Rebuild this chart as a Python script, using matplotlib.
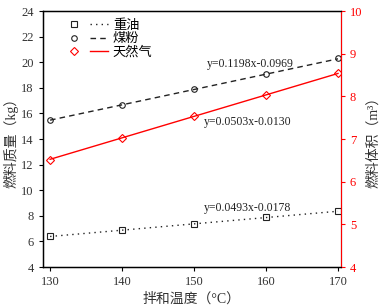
import numpy as np
import matplotlib
matplotlib.use("Agg")
import matplotlib.pyplot as plt
from matplotlib.legend_handler import HandlerTuple

plt.rcParams['font.family'] = ['Liberation Serif', 'Noto Sans CJK SC']

temps = [130, 140, 150, 160, 170]
heavy_oil = [6.4, 6.9, 7.4, 7.9, 8.4]          # kg
coal = [15.5, 16.7, 17.9, 19.1, 20.3]          # kg
gas = [6.52, 7.03, 7.53, 8.03, 8.54]           # m3

oil_fit = (0.0493, -0.0178)
coal_fit = (0.1198, -0.0969)
gas_fit = (0.0503, -0.0130)

fig = plt.figure(figsize=(3.83, 3.07), dpi=100)
ax = fig.add_axes([0.112, 0.130, 0.778, 0.834])
ax2 = ax.twinx()

x = np.array(temps, dtype=float)
ms = 4
m1, = ax.plot(temps, heavy_oil, ls='none', marker='s', ms=ms, mfc='none', mec='#222222', mew=0.8)
l1, = ax.plot(x, oil_fit[0] * x + oil_fit[1], ls=(0, (1, 3)), color='#222222', lw=1)
m2, = ax.plot(temps, coal, ls='none', marker='o', ms=ms, mfc='none', mec='#222222', mew=0.8)
l2, = ax.plot(x, coal_fit[0] * x + coal_fit[1], ls=(0, (4, 3)), color='#222222', lw=1)
m3, = ax2.plot(temps, gas, ls='none', marker='D', ms=ms, mfc='none', mec='red', mew=0.8)
l3, = ax2.plot(x, gas_fit[0] * x + gas_fit[1], ls='-', color='red', lw=1)

ax.set_xlim(129, 170.4)
ax.set_ylim(4, 24)
ax.set_yticks(range(4, 25, 2))
ax.set_xticks(temps)
ax2.set_ylim(4, 10)
ax2.set_yticks(range(4, 11))

ax.tick_params(direction='out', length=3, labelsize=9, labelcolor='#333333', top=False)
ax2.tick_params(direction='out', length=3, labelsize=9, colors='red')
ax2.spines['right'].set_color('red')
for s in ['left', 'bottom', 'top']:
    ax.spines[s].set_linewidth(1.0)

ax.set_xlabel('拌和温度（°C）', fontsize=10, color='#333333', labelpad=3)
ax.set_ylabel('燃料质量（kg）', fontsize=10, color='#333333', labelpad=2)
ax2.set_ylabel('燃料体积（m³）', fontsize=10, color='#333333', labelpad=3)

ax.text(151.8, 19.9, 'y=0.1198x-0.0969', fontsize=8.5, color='#222222', va='center')
ax.text(151.4, 15.3, 'y=0.0503x-0.0130', fontsize=8.5, color='#222222', va='center')
ax.text(151.4, 8.6, 'y=0.0493x-0.0178', fontsize=8.5, color='#222222', va='center')

ax.legend([(m1, l1), (m2, l2), (m3, l3)], ['重油', '煤粉', '天然气'],
          handler_map={tuple: HandlerTuple(ndivide=None, pad=0.5)},
          loc='upper left', bbox_to_anchor=(0.04, 1.01), frameon=False, fontsize=9.5,
          handlelength=3.2, handletextpad=0.4, labelspacing=0.1, borderpad=0.3)

fig.savefig('out.png', dpi=100)
